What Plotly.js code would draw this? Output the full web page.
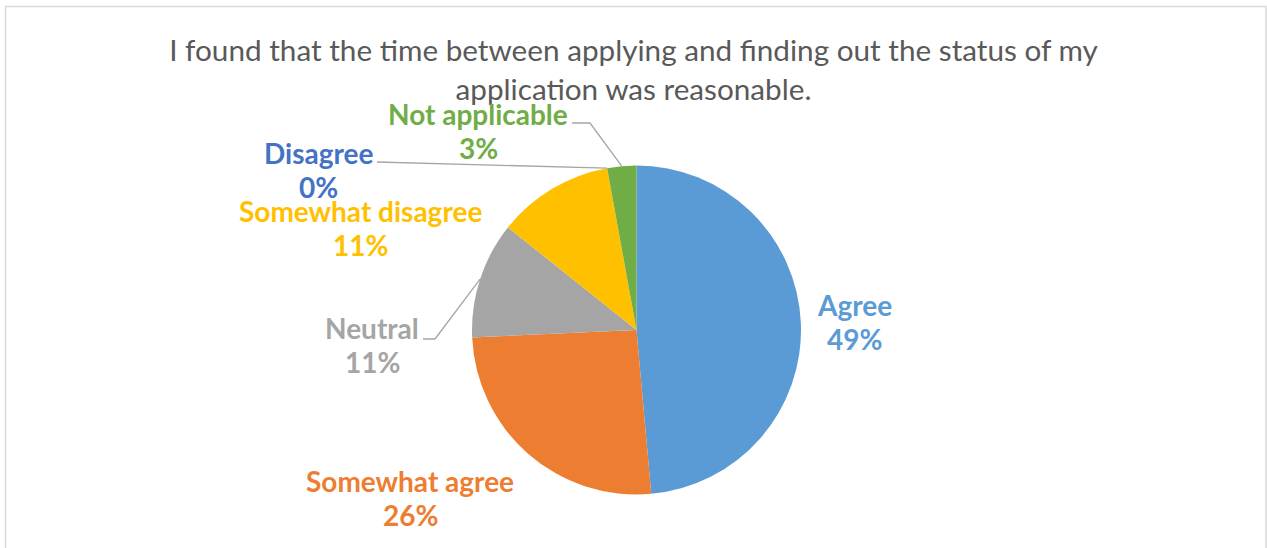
<!DOCTYPE html>
<html><head><meta charset="utf-8">
<script src="https://cdn.plot.ly/plotly-3.0.1.min.js"></script>
<style>html,body{margin:0;padding:0;background:#fff}#chart{width:1267px;height:548px}</style>
</head><body><div id="chart"></div>
<script>
// ---- data ----
const categories = ['Agree', 'Somewhat agree', 'Neutral', 'Somewhat disagree', 'Disagree', 'Not applicable'];
const responses = [17, 9, 4, 4, 0, 1];
const sliceColors = ['#5B9BD5', '#ED7D31', '#A5A5A5', '#FFC000', '#4472C4', '#70AD47'];
const chartTitle = 'I found that the time between applying and finding out the status of my<br>application was reasonable.';

// ---- layout (pixels) ----
const W = 1267, H = 548;
const CX = 636.5, CY = 330, R = 164.5;
const LINE_GAP = 34;
const FONT = 'Lato, "Open Sans", sans-serif';
// label centre (first line) and leader-line start points, per category
const labelPos = [
  {x: 854, y: 305, leader: null},
  {x: 410, y: 481, leader: null},
  {x: 372, y: 328, leader: [[423, 339], [435, 339]]},
  {x: 360, y: 211, leader: null},
  {x: 318, y: 153, leader: [[377, 162]]},
  {x: 478, y: 114, leader: [[572, 123], [590, 123]]}
];

const px = v => v / W;
const py = v => 1 - v / H;
const total = responses.reduce((a, b) => a + b, 0);

const annotations = [];
const shapes = [];
let cum = 0;
categories.forEach((name, i) => {
  const frac = responses[i] / total;
  const mid = (cum + frac / 2) * 2 * Math.PI; // clockwise from 12 o'clock
  cum += frac;
  const pct = Math.round(frac * 100) + '%';
  const lp = labelPos[i];
  const font = {family: FONT, size: 28, color: sliceColors[i], weight: 'bold'};
  annotations.push({text: '<b>' + name + '</b>', x: px(lp.x), y: py(lp.y), xref: 'paper', yref: 'paper',
    xanchor: 'center', yanchor: 'middle', showarrow: false, font: font, borderpad: 0});
  annotations.push({text: '<b>' + pct + '</b>', x: px(lp.x), y: py(lp.y + LINE_GAP), xref: 'paper', yref: 'paper',
    xanchor: 'center', yanchor: 'middle', showarrow: false, font: font, borderpad: 0});
  if (lp.leader) {
    const ex = CX + R * Math.sin(mid), ey = CY - R * Math.cos(mid);
    const pts = lp.leader.concat([[ex, ey]]);
    const path = pts.map((p, k) => (k ? 'L' : 'M') + px(p[0]) + ',' + py(p[1])).join(' ');
    shapes.push({type: 'path', xref: 'paper', yref: 'paper', path: path, line: {color: '#A6A6A6', width: 1.3}});
  }
});

// chart border
shapes.push({type: 'rect', xref: 'paper', yref: 'paper', x0: px(5.5), x1: px(1266), y0: py(560), y1: py(6.5),
  line: {color: '#D9D9D9', width: 1.5}, fillcolor: 'rgba(0,0,0,0)', layer: 'below'});

const trace = {
  type: 'pie',
  labels: categories,
  values: responses,
  sort: false,
  direction: 'clockwise',
  rotation: 0,
  textinfo: 'none',
  hoverinfo: 'label+percent',
  marker: {colors: sliceColors, line: {color: '#FFFFFF', width: 0}},
  domain: {x: [px(CX - R), px(CX + R)], y: [py(CY + R), py(CY - R)]},
  showlegend: false
};

const layout = {
  width: W, height: H,
  margin: {l: 0, r: 0, t: 0, b: 0},
  paper_bgcolor: '#FFFFFF',
  title: {text: chartTitle, x: 0.5, xanchor: 'center', xref: 'paper', y: py(61), yref: 'container', yanchor: 'top',
    font: {family: FONT, size: 29.7, color: '#595959'}},
  annotations: annotations,
  shapes: shapes,
  showlegend: false
};

Plotly.newPlot('chart', [trace], layout, {displayModeBar: false, staticPlot: true});
</script>
</body></html>
